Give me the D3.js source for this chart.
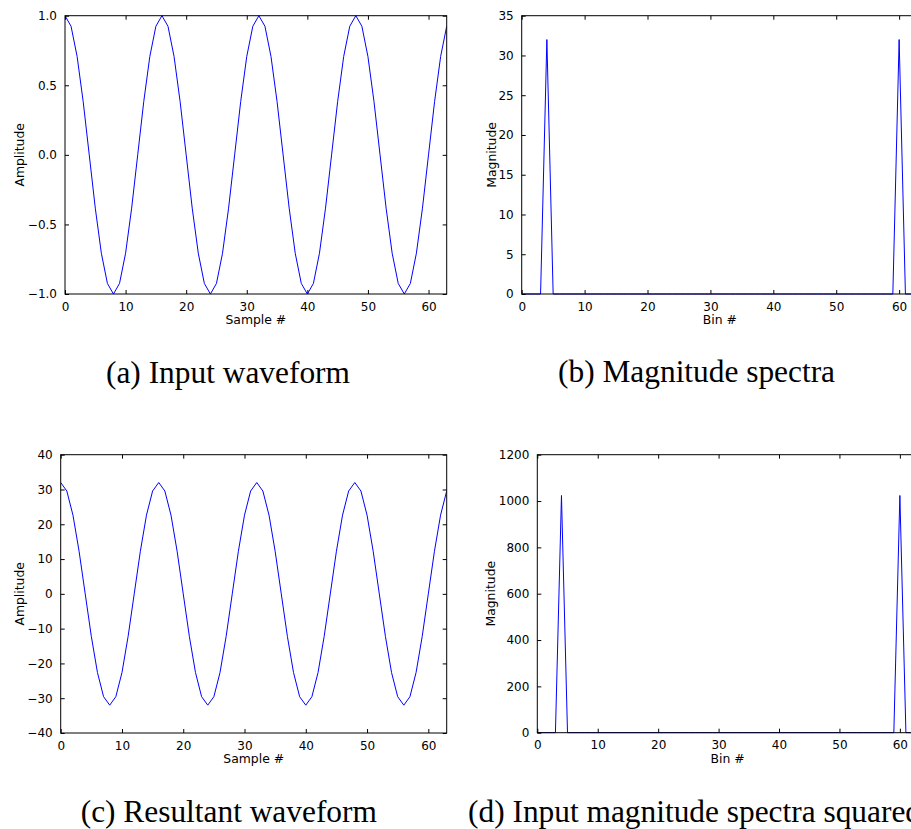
<!DOCTYPE html>
<html>
<head>
<meta charset="utf-8">
<script src="https://cdn.jsdelivr.net/npm/d3@7"></script>
<style>
  body { margin: 0; background: #fff; }
  svg { display: block; }
  .tick text { font-family: "DejaVu Sans", sans-serif; font-size: 12px; fill: #000; }
  .lbl { font-family: "DejaVu Sans", sans-serif; font-size: 12.4px; fill: #000; }
  .cap { font-family: "Liberation Serif", serif; fill: #000; }
</style>
</head>
<body>
<svg id="viz" width="911" height="829"></svg>
<script>
// sample / bin index, 0..63
let samples = d3.range(64);

// (a) input waveform
let inputWave = [
    1, 0.924, 0.707, 0.383, 0, -0.383, -0.707, -0.924, -1, -0.924, -0.707, -0.383, 0, 0.383, 0.707, 0.924,
    1, 0.924, 0.707, 0.383, 0, -0.383, -0.707, -0.924, -1, -0.924, -0.707, -0.383, 0, 0.383, 0.707, 0.924,
    1, 0.924, 0.707, 0.383, 0, -0.383, -0.707, -0.924, -1, -0.924, -0.707, -0.383, 0, 0.383, 0.707, 0.924,
    1, 0.924, 0.707, 0.383, 0, -0.383, -0.707, -0.924, -1, -0.924, -0.707, -0.383, 0, 0.383, 0.707, 0.924
];

// (b) magnitude spectra
let magSpectra = [
    0, 0, 0, 0, 32, 0, 0, 0, 0, 0, 0, 0, 0, 0, 0, 0,
    0, 0, 0, 0, 0, 0, 0, 0, 0, 0, 0, 0, 0, 0, 0, 0,
    0, 0, 0, 0, 0, 0, 0, 0, 0, 0, 0, 0, 0, 0, 0, 0,
    0, 0, 0, 0, 0, 0, 0, 0, 0, 0, 0, 0, 32, 0, 0, 0
];

// (c) resultant waveform
let resultWave = [
    32, 29.56, 22.63, 12.25, 0, -12.25, -22.63, -29.56, -32, -29.56, -22.63, -12.25, 0, 12.25, 22.63, 29.56,
    32, 29.56, 22.63, 12.25, 0, -12.25, -22.63, -29.56, -32, -29.56, -22.63, -12.25, 0, 12.25, 22.63, 29.56,
    32, 29.56, 22.63, 12.25, 0, -12.25, -22.63, -29.56, -32, -29.56, -22.63, -12.25, 0, 12.25, 22.63, 29.56,
    32, 29.56, 22.63, 12.25, 0, -12.25, -22.63, -29.56, -32, -29.56, -22.63, -12.25, 0, 12.25, 22.63, 29.56
];

// (d) input magnitude spectra squared
let magSquared = [
    0, 0, 0, 0, 1024, 0, 0, 0, 0, 0, 0, 0, 0, 0, 0, 0,
    0, 0, 0, 0, 0, 0, 0, 0, 0, 0, 0, 0, 0, 0, 0, 0,
    0, 0, 0, 0, 0, 0, 0, 0, 0, 0, 0, 0, 0, 0, 0, 0,
    0, 0, 0, 0, 0, 0, 0, 0, 0, 0, 0, 0, 1024, 0, 0, 0
];

let xTicks = [0, 10, 20, 30, 40, 50, 60];
let ticksA = [-1.0, -0.5, 0.0, 0.5, 1.0];
let ticksB = [0, 5, 10, 15, 20, 25, 30, 35];
let ticksC = [-40, -30, -20, -10, 0, 10, 20, 30, 40];
let ticksD = [0, 200, 400, 600, 800, 1000, 1200];

let captions = [
    "(a) Input waveform",
    "(b) Magnitude spectra",
    "(c) Resultant waveform",
    "(d) Input magnitude spectra squared"
];

let panels = [
    {values: inputWave, yDomain: [-1, 1], yTicks: ticksA, fmt: d3.format(".1f"), xLabel: "Sample #", yLabel: "Amplitude",
        box: {x0: 65, x1: 446.7, y0: 15.7, y1: 294}, yLabelX: 20, cap: {x: 106, y: 383}},
    {values: magSpectra, yDomain: [0, 35], yTicks: ticksB, fmt: d3.format("d"), xLabel: "Bin #", yLabel: "Magnitude",
        box: {x0: 521.7, x1: 918, y0: 15.7, y1: 294}, yLabelX: 491.5, cap: {x: 558, y: 382}},
    {values: resultWave, yDomain: [-40, 40], yTicks: ticksC, fmt: d3.format("d"), xLabel: "Sample #", yLabel: "Amplitude",
        box: {x0: 60.7, x1: 446.7, y0: 454.7, y1: 733}, yLabelX: 20, cap: {x: 80.7, y: 821.5}},
    {values: magSquared, yDomain: [0, 1200], yTicks: ticksD, fmt: d3.format("d"), xLabel: "Bin #", yLabel: "Magnitude",
        box: {x0: 537.3, x1: 918, y0: 454.7, y1: 732.7}, yLabelX: 490.5, cap: {x: 468, y: 821.5}}
];

let svg = d3.select("#viz");
svg.append("rect").attr("width", 911).attr("height", 829).attr("fill", "#fff");

function minus(s) {
    return s.replace("-", "\u2212");
}

panels.forEach(function (p, i) {
    let b = p.box;
    let x = d3.scaleLinear().domain([0, 63]).range([b.x0, b.x1]);
    let y = d3.scaleLinear().domain(p.yDomain).range([b.y1, b.y0]);
    let g = svg.append("g");

    let clipId = "clip" + i;
    g.append("clipPath").attr("id", clipId)
        .append("rect")
        .attr("x", b.x0).attr("y", b.y0 - 1)
        .attr("width", b.x1 - b.x0).attr("height", b.y1 - b.y0 + 2);

    let line = d3.line()
        .x(function (d, j) { return x(samples[j]); })
        .y(function (d) { return y(d); });

    g.append("path")
        .datum(p.values)
        .attr("clip-path", "url(#" + clipId + ")")
        .attr("fill", "none")
        .attr("stroke", "#0000ff")
        .attr("stroke-width", 1)
        .attr("d", line);

    // axes, ticks pointing inward like matplotlib classic
    g.append("g")
        .attr("transform", "translate(0," + b.y1 + ")")
        .call(d3.axisBottom(x).tickValues(xTicks).tickSizeInner(-4).tickSizeOuter(0).tickPadding(8))
        .call(function (a) { a.select(".domain").remove(); });
    g.append("g")
        .attr("transform", "translate(0," + b.y0 + ")")
        .call(d3.axisTop(x).tickValues(xTicks).tickSizeInner(-4).tickSizeOuter(0).tickFormat(""))
        .call(function (a) { a.select(".domain").remove(); });
    g.append("g")
        .attr("transform", "translate(" + b.x0 + ",0)")
        .call(d3.axisLeft(y).tickValues(p.yTicks).tickSizeInner(-4).tickSizeOuter(0).tickPadding(8)
            .tickFormat(function (d) { return minus(p.fmt(d)); }))
        .call(function (a) { a.select(".domain").remove(); });
    g.append("g")
        .attr("transform", "translate(" + b.x1 + ",0)")
        .call(d3.axisRight(y).tickValues(p.yTicks).tickSizeInner(-4).tickSizeOuter(0).tickFormat(""))
        .call(function (a) { a.select(".domain").remove(); });

    g.selectAll(".tick line").attr("stroke", "#000");

    g.append("rect")
        .attr("x", b.x0).attr("y", b.y0)
        .attr("width", b.x1 - b.x0).attr("height", b.y1 - b.y0)
        .attr("fill", "none").attr("stroke", "#000").attr("stroke-width", 1);

    g.append("text").attr("class", "lbl")
        .attr("x", (b.x0 + Math.min(b.x1, 2 * x(31.5) - b.x0)) / 2)
        .attr("y", b.y1 + 30)
        .attr("text-anchor", "middle")
        .text(p.xLabel);

    g.append("text").attr("class", "lbl")
        .attr("transform", "translate(" + (p.yLabelX + 4) + "," + ((b.y0 + b.y1) / 2) + ") rotate(-90)")
        .attr("text-anchor", "middle")
        .text(p.yLabel);

    g.append("text").attr("class", "cap")
        .attr("x", p.cap.x).attr("y", p.cap.y)
        .style("font-size", "29px")
        .text(captions[i]);
});

// fit the caption size to the measured width of caption (a)
let capNodes = svg.selectAll(".cap").nodes();
let w = capNodes[0].getComputedTextLength();
let size = 29 * 244 / w;
svg.selectAll(".cap").style("font-size", size + "px");
</script>
</body>
</html>
